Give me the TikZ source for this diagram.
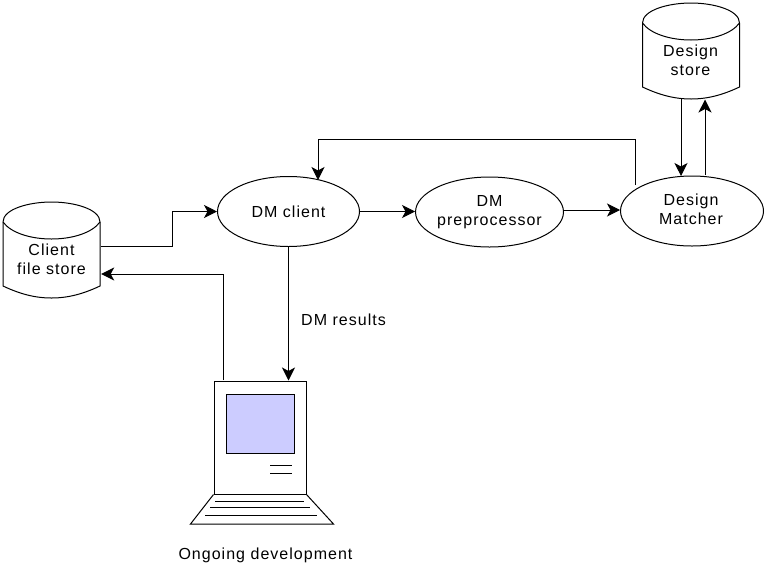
\documentclass[tikz,border=0pt]{standalone}
\usepackage{fontspec}
\setmainfont[LetterSpace=6.4]{Liberation Sans}
\usetikzlibrary{shapes.geometric,arrows.meta}
\tikzset{
  lbl/.style={font=\fontsize{16}{19}\selectfont,align=center,inner sep=0pt},
  oval/.style={ellipse,draw=black,line width=1pt,minimum width=142pt,minimum height=70pt,inner sep=0pt,lbl},
  storebox/.style={minimum width=97pt,minimum height=96pt,inner sep=0pt,lbl},
  conn/.style={line width=1pt,-{Stealth[length=13pt,width=13pt,inset=3.5pt]}},
  ln/.style={line width=1pt}
}
\newcommand{\drum}[3]{% left x, top y, name
  \draw[ln,fill=white] (#1,#2+20) .. controls (#1,#2+7) and (#1+26,#2) .. (#1+48.5,#2)
     .. controls (#1+71,#2) and (#1+97,#2+7) .. (#1+97,#2+20)
     -- (#1+97,#2+84) .. controls (#1+80,#2+92) and (#1+65,#2+96) .. (#1+48.5,#2+96)
     .. controls (#1+32,#2+96) and (#1+17,#2+92) .. (#1,#2+84) -- cycle;
  \draw[ln] (#1,#2+20) .. controls (#1+8,#2+31) and (#1+28,#2+37) .. (#1+48.5,#2+37)
     .. controls (#1+69,#2+37) and (#1+89,#2+31) .. (#1+97,#2+20);
  \node[storebox] (#3) at (#1+48.5,#2+48) {};
}
\begin{document}
\begin{tikzpicture}[x=1pt,y=-1pt]
\useasboundingbox (0,0) rectangle (767,568);
\drum{3}{202}{cstore}
\drum{642.5}{3}{dstore}
\node[lbl] (cstorelbl) at (51.5,259) {Client\\file store};
\node[lbl] (dstorelbl) at (690.5,60.5) {Design\\store};
\node[oval] (client) at (288.5,211.5) {DM client};
\node[oval,minimum width=144pt] (prep) at (489.5,212) {DM\\preprocessor};
\node[oval,minimum width=143pt] (matcher) at (692,211) {};
\node[lbl] (matcherlbl) at (691,209.5) {Design\\Matcher};
% computer
\node[draw=black,line width=1pt,minimum width=92pt,minimum height=113pt,inner sep=0pt] (pc) at (260,437.5) {};
\node[draw=black,fill=blue!20,line width=1pt,minimum width=68pt,minimum height=59pt,inner sep=0pt] (screen) at (260,423.5) {};
\coordinate (k1) at (190.5,524);
\coordinate (k2) at (333.5,524);
\draw[ln] (pc.south west) -- (k1) -- (k2) -- (pc.south east);
\draw[ln] (270,465) -- (292,465) (270,473) -- (292,473);
\draw[ln] (215,501) -- (304,501) (210,507) -- (310,507) (205,515) -- (317,515);
\node[lbl] (ongoing) at (265.5,555) {Ongoing development};
% connectors
\draw[conn] ([yshift=4pt]cstore.east) ++(1,0) -- ++(71,0) |- (client.west);
\draw[conn] (client.east) -- (client.east -| prep.west);
\draw[conn] ([yshift=2pt]prep.east) -- ([yshift=1pt]matcher.west);
\coordinate (back) at (635,185);
\draw[conn] (back) |- (318,139) -- (318,180);
\draw[conn] (client.south) -- (client.south |- pc.north);
\node[lbl,anchor=west] (res) at (301,320) {DM results};
\coordinate (pcout) at (223,380);
\draw[conn] (pcout) |- ([xshift=1pt,yshift=-24pt]cstore.east);
\draw[conn] (681,99) -- (681,176);
\draw[conn] (705,175) -- (705,99.5);
\end{tikzpicture}
\end{document}
